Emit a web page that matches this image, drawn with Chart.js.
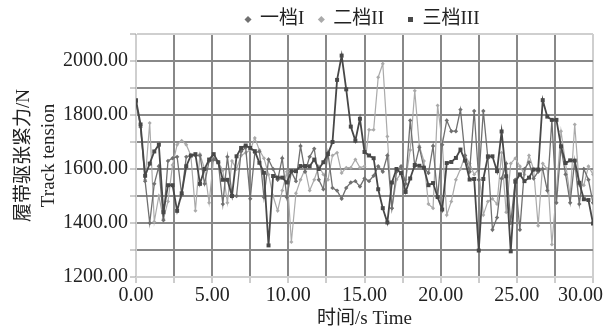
<!DOCTYPE html>
<html><head><meta charset="utf-8">
<script src="https://cdn.jsdelivr.net/npm/chart.js@4/dist/chart.umd.min.js"></script>
<style>html,body{margin:0;padding:0;background:#fff}#wrap{width:614px;height:332px}</style>
</head><body><div id="wrap"><canvas id="c" width="614" height="332"></canvas></div>
<script>
const seriesNames = ['一档I', '二档II', '三档III'];
const gear1 = [1845,1755,1555,1400,1545,1610,1410,1630,1640,1645,1505,1645,1650,1650,1650,1545,1630,1635,1625,1470,
  1645,1505,1500,1665,1680,1490,1660,1665,1495,1635,1600,1560,1640,1495,1590,1555,1685,1590,1645,1675,
  1560,1525,1660,1530,1520,1490,1530,1550,1555,1535,1565,1555,1575,1610,1590,1650,1455,1590,1610,1545,
  1780,1610,1680,1605,1585,1685,1495,1690,1780,1740,1740,1820,1650,1590,1815,1560,1815,1640,1375,1420,
  1565,1620,1400,1560,1375,1600,1625,1565,1590,1600,1520,1780,1475,1680,1580,1475,1630,1470,1600,1560,1475];
const gear2 = [1850,1760,1560,1770,1405,1500,1415,1480,1615,1690,1705,1690,1650,1445,1655,1600,1475,1640,1625,1595,
  1475,1630,1600,1650,1660,1670,1715,1670,1640,1580,1500,1445,1520,1590,1330,1510,1560,1600,1520,1560,
  1610,1580,1560,1650,1660,1585,1605,1605,1635,1605,1610,1745,1745,1940,1990,1720,1455,1560,1585,1560,
  1670,1890,1685,1630,1470,1455,1835,1700,1430,1480,1560,1600,1650,1620,1580,1600,1430,1480,1490,1470,
  1660,1440,1620,1640,1610,1580,1650,1600,1390,1620,1600,1320,1520,1740,1620,1500,1765,1540,1540,1610,1580];
const gear3 = [1855,1765,1575,1620,1665,1690,1440,1540,1540,1445,1510,1610,1650,1655,1545,1600,1635,1655,1625,1560,
  1560,1500,1647,1678,1687,1678,1666,1623,1586,1317,1574,1568,1568,1550,1592,1592,1611,1611,1610,1635,
  1600,1625,1655,1700,1930,2020,1895,1757,1705,1786,1663,1650,1640,1525,1455,1402,1550,1600,1585,1515,
  1565,1615,1612,1605,1540,1548,1496,1450,1622,1626,1641,1672,1631,1561,1563,1298,1563,1647,1647,1592,
  1739,1573,1295,1553,1580,1555,1568,1598,1598,1855,1794,1782,1782,1684,1622,1632,1631,1549,1488,1485,1398];
const times = gear3.map((_, i) => Math.round(i * 3) / 10);
const xTickLabels = ['0.00', '5.00', '10.00', '15.00', '20.00', '25.00', '30.00'];
const yTickLabels = ['1200.00', '1400.00', '1600.00', '1800.00', '2000.00'];
const xTitle = '时间/s Time';
const yTitle = ['履带驱张紧力/N', 'Track tension'];

const FONT = '"Liberation Serif", "Times New Roman", "Noto Sans CJK SC", serif';
const NB = '\u00a0';
const legendGap = [NB + NB, NB + NB + NB + NB, ''];
const pts = arr => arr.map((v, i) => ({x: times[i], y: v}));
const gridColor = (minV, maxV) => ctx => {
  const v = ctx.tick ? ctx.tick.value : null;
  return (v === minV || v === maxV) ? '#cfcfcf' : '#888888';
};

const shiftLegend = {
  id: 'shiftLegend',
  afterLayout(chart) {
    const lg = chart.legend;
    if (lg) { lg.left += 66; lg.right += 66; lg.top += 5; lg.bottom += 5; }
  }
};

new Chart(document.getElementById('c'), {
  type: 'line',
  data: {
    datasets: [
      {label: seriesNames[0] + legendGap[0], data: pts(gear1), borderColor: '#707070', backgroundColor: '#707070',
        borderWidth: 1.3, pointStyle: 'rectRot', pointRadius: 2.2, pointBorderWidth: 0, order: 1, tension: 0},
      {label: seriesNames[1] + legendGap[1], data: pts(gear2), borderColor: '#aaaaaa', backgroundColor: '#aaaaaa',
        borderWidth: 1.2, pointStyle: 'rectRot', pointRadius: 2, pointBorderWidth: 0, order: 2, tension: 0},
      {label: seriesNames[2] + legendGap[2], data: pts(gear3), borderColor: '#484848', backgroundColor: '#484848',
        borderWidth: 1.8, pointStyle: 'rect', pointRadius: 2.8, pointBorderWidth: 0, order: 0, tension: 0}
    ]
  },
  options: {
    responsive: false,
    animation: false,
    devicePixelRatio: 1,
    layout: {padding: {left: 0, right: 21, top: 0, bottom: 0}},
    plugins: {
      tooltip: {enabled: false},
      legend: {
        display: true,
        position: 'top',
        labels: {
          usePointStyle: true,
          boxWidth: 5, boxHeight: 5,
          padding: 5,
          color: '#222',
          font: {family: FONT, size: 19},
          sort: (a, b) => a.datasetIndex - b.datasetIndex
        }
      }
    },
    scales: {
      x: {
        type: 'linear', min: 0, max: 30,
        afterFit(s) { s.height = 55; s.paddingLeft = 0; s.paddingRight = 0; },
        ticks: {
          stepSize: 2.5, autoSkip: false, maxRotation: 0, padding: 1, color: '#222',
          font: {family: FONT, size: 20},
          callback: v => {
            if (Math.abs(v % 5) > 1e-6) return '';
            const lbl = xTickLabels[Math.round(v / 5)];
            return v === 30 ? lbl + NB + NB + NB + NB + NB : lbl;
          }
        },
        grid: {color: gridColor(0, 30), lineWidth: 2, tickLength: 6, tickColor: '#9a9a9a', tickWidth: 1},
        border: {color: '#cfcfcf', width: 1},
        title: {display: true, text: xTitle, color: '#222', font: {family: FONT, size: 19}, padding: {top: 0, bottom: 2}}
      },
      y: {
        min: 1200, max: 2100,
        afterFit(s) { s.width = 136; s.paddingTop = 0; s.paddingBottom = 0; },
        ticks: {
          stepSize: 100, autoSkip: false, padding: 2, color: '#222',
          font: {family: FONT, size: 20},
          callback: v => (v % 200 === 0 && v <= 2000) ? yTickLabels[(v - 1200) / 200] : ''
        },
        grid: {color: gridColor(1200, 2100), lineWidth: 2, tickLength: 6, tickColor: '#9a9a9a', tickWidth: 1},
        border: {color: '#cfcfcf', width: 1},
        title: {display: true, text: yTitle, color: '#222', font: {family: FONT, size: 19, lineHeight: 1.35}, padding: {top: 11, bottom: 0}}
      }
    }
  },
  plugins: [shiftLegend]
});
</script>
</body></html>
